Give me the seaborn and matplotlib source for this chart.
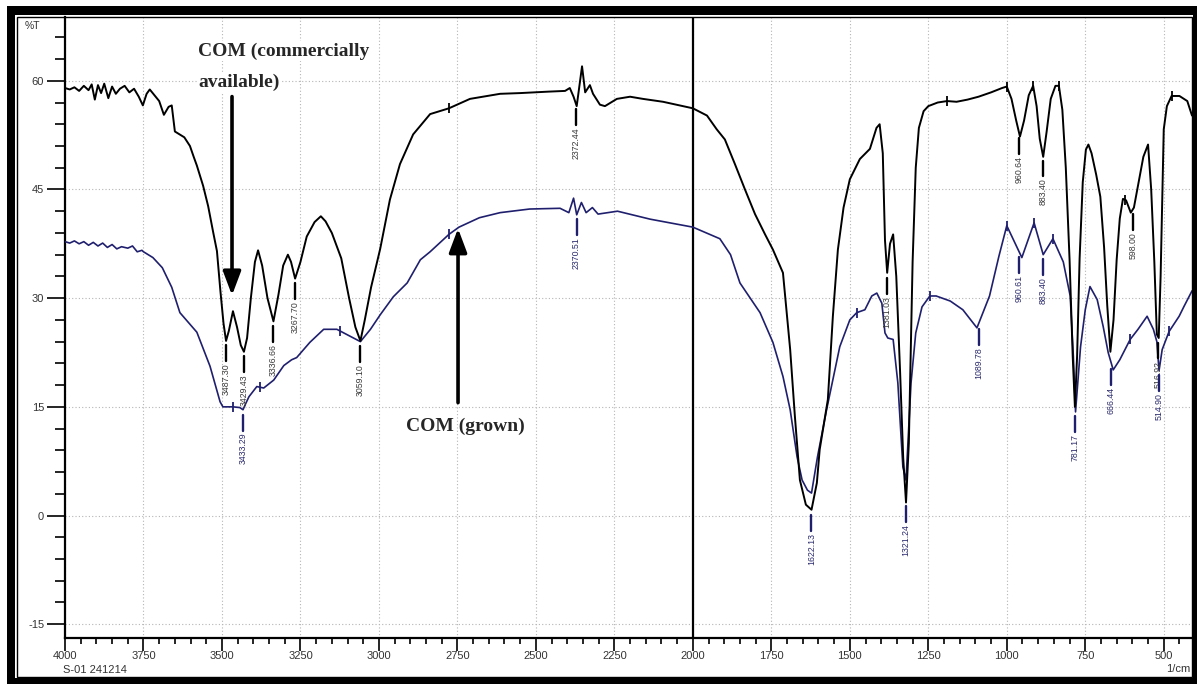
import numpy as np
import pandas as pd
import matplotlib
matplotlib.use("Agg")
import matplotlib.pyplot as plt
import seaborn as sns
from matplotlib.patches import Rectangle
from matplotlib.ticker import MultipleLocator

# ---------------- data ----------------
wn_com = [4000, 3985, 3970, 3955, 3940, 3925, 3915, 3905, 3895, 3885, 3875, 3862, 3850, 3838,
          3825, 3810, 3795, 3780, 3765, 3752, 3740, 3730, 3715, 3700, 3685, 3670, 3660, 3650,
          3635, 3620, 3602, 3590, 3580, 3560, 3544, 3528, 3516, 3505, 3495, 3487, 3478, 3465,
          3452, 3440, 3430, 3420, 3408, 3395, 3385, 3372, 3355, 3336, 3320, 3305, 3290, 3280,
          3267, 3250, 3230, 3205, 3185, 3170, 3150, 3120, 3095, 3075, 3059, 3045, 3025, 2996,
          2965, 2933, 2891, 2837, 2777, 2710, 2614, 2550, 2460, 2407, 2392, 2380, 2370, 2353,
          2343, 2328, 2318, 2296, 2280, 2242, 2200, 2159, 2095, 2031, 2000, 1955, 1924, 1898,
          1866, 1834, 1802, 1770, 1745, 1713, 1690, 1675, 1659, 1640, 1622, 1605, 1596, 1570,
          1554, 1538, 1520, 1500, 1468, 1436, 1415, 1405, 1395, 1388, 1381, 1372, 1362, 1352,
          1340, 1330, 1321, 1312, 1300, 1290, 1280, 1265, 1250, 1220, 1190, 1160, 1125, 1090,
          1050, 1015, 1000, 985, 970, 958, 945, 930, 916, 905, 895, 884, 873, 860, 845, 834,
          823, 812, 800, 790, 783, 776, 768, 758, 748, 740, 730, 715, 702, 690, 680, 670, 660,
          650, 640, 630, 620, 605, 595, 580, 565, 550, 540, 530, 522, 516, 510, 500, 490, 475,
          450, 425, 410]
t_com = [59.0, 58.8, 59.1, 58.6, 59.3, 58.7, 59.5, 57.4, 59.4, 58.3, 59.6, 57.6, 59.2, 58.2,
         58.9, 59.3, 58.4, 58.9, 57.8, 56.6, 58.2, 58.8, 58.0, 57.2, 55.3, 56.4, 56.6, 53.0,
         52.6, 52.2, 51.0, 49.5, 48.3, 45.5, 42.7, 39.1, 36.5, 31.0, 26.5, 24.1, 25.5, 28.2,
         26.0, 23.5, 22.6, 24.5, 30.0, 35.0, 36.6, 34.5, 30.0, 26.8, 30.5, 34.5, 36.0, 35.0,
         32.7, 35.0, 38.5, 40.5, 41.3, 40.6, 39.0, 35.5, 30.0, 26.0, 24.1, 27.0, 31.5, 36.8,
         43.6, 48.5, 52.6, 55.4, 56.2, 57.5, 58.2, 58.3, 58.5, 58.6, 59.0, 57.8, 56.5, 62.0,
         58.4, 59.4, 58.2, 56.7, 56.5, 57.5, 57.8, 57.5, 57.1, 56.5, 56.2, 55.2, 53.3, 51.9,
         48.5, 45.0, 41.6, 38.8, 36.7, 33.5, 22.9, 13.7, 4.9, 1.5, 0.8, 4.5, 9.1, 16.0,
         27.5, 36.7, 42.5, 46.4, 49.2, 50.6, 53.5, 54.0, 50.0, 38.0, 33.5, 37.5, 38.8, 33.0,
         20.0, 8.0, 1.8, 10.0, 35.0, 48.0, 53.5, 55.8, 56.5, 57.0, 57.2, 57.1, 57.4, 57.8,
         58.4, 59.0, 59.2, 57.5, 54.5, 52.3, 54.5, 58.0, 59.3, 56.5, 52.0, 49.5, 53.0, 57.5,
         59.3, 59.3, 56.0, 48.0, 35.3, 22.0, 15.0, 22.0, 35.5, 46.0, 50.5, 51.2, 50.0, 47.0,
         44.0, 37.0, 29.0, 22.6, 27.0, 35.3, 41.0, 43.7, 43.5, 41.8, 42.5, 46.0, 49.5, 51.2,
         45.0, 35.0, 25.0, 24.5, 33.0, 53.3, 56.5, 57.9, 57.9, 57.2, 55.2]

wn_grown = [4000, 3985, 3970, 3955, 3940, 3925, 3910, 3895, 3880, 3865, 3850, 3835, 3820, 3800,
            3785, 3770, 3755, 3750, 3720, 3690, 3660, 3634, 3580, 3538, 3506, 3497, 3465, 3443,
            3433, 3426, 3414, 3389, 3367, 3335, 3303, 3278, 3262, 3220, 3176, 3134, 3103, 3059,
            3027, 2996, 2954, 2910, 2868, 2837, 2777, 2745, 2680, 2614, 2520, 2423, 2395, 2380,
            2370, 2355, 2340, 2320, 2302, 2240, 2136, 2000, 1914, 1880, 1850, 1786, 1745, 1713,
            1690, 1668, 1652, 1635, 1622, 1603, 1574, 1532, 1500, 1478, 1452, 1430, 1414, 1398,
            1388, 1379, 1362, 1347, 1331, 1321, 1305, 1290, 1270, 1245, 1225, 1180, 1140, 1095,
            1055, 1025, 1000, 952, 913, 884, 853, 820, 798, 788, 781, 765, 750, 735, 712, 693,
            677, 661, 640, 607, 582, 553, 533, 522, 515, 505, 483, 451, 435, 410]
t_grown = [37.8, 37.6, 37.9, 37.5, 37.8, 37.3, 37.7, 37.2, 37.6, 37.0, 37.4, 36.8, 37.1, 36.9,
           37.2, 36.4, 36.6, 36.4, 35.6, 34.2, 31.5, 28.0, 25.3, 20.6, 15.7, 15.0, 15.0, 14.9,
           14.6, 15.3, 16.4, 17.8, 17.6, 18.7, 20.7, 21.5, 21.8, 23.9, 25.7, 25.7, 25.0, 24.0,
           25.7, 27.7, 30.2, 32.1, 35.3, 36.4, 38.8, 39.8, 41.1, 41.8, 42.3, 42.4, 41.8, 43.8,
           41.5, 43.2, 41.8, 42.5, 41.6, 42.0, 40.9, 39.8, 38.2, 36.0, 32.1, 28.0, 23.9, 19.2,
           14.6, 8.1, 4.9, 3.5, 3.1, 8.1, 14.6, 23.3, 27.0, 28.0, 28.4, 30.3, 30.7, 29.3,
           25.2, 24.5, 24.3, 18.3, 6.7, 4.9, 18.3, 25.2, 28.8, 30.3, 30.3, 29.6, 28.4, 25.9,
           30.3, 35.8, 40.0, 35.6, 40.4, 36.0, 38.2, 35.0, 30.3, 22.0, 14.3, 23.3, 28.4, 31.6,
           29.8, 26.1, 22.5, 20.1, 21.5, 24.3, 25.7, 27.5, 25.7, 24.0, 20.0, 22.9, 25.4, 27.5,
           28.9, 31.0]

peaks_com = [3487.30, 3429.43, 3336.66, 3267.70, 3059.10, 2372.44, 1381.03, 960.64, 883.40, 598.00, 516.92]
peak_labels_com = ["3487.30", "3429.43", "3336.66", "3267.70", "3059.10", "2372.44", "1381.03",
                   "960.64", "883.40", "598.00", "516.92"]
peaks_grown = [3433.29, 2370.51, 1622.13, 1321.24, 1089.78, 960.61, 883.40, 781.17, 666.44, 514.90]
peak_labels_grown = ["3433.29", "2370.51", "1622.13", "1321.24", "1089.78", "960.61", "883.40",
                     "781.17", "666.44", "514.90"]

marks_com = [2777, 1190, 1000, 916, 834, 623, 475]
marks_grown = [3465, 3379, 3124, 2777, 1478, 1245, 1000, 913, 853, 607, 483]

x_ticks = [4000, 3750, 3500, 3250, 3000, 2750, 2500, 2250, 2000, 1750, 1500, 1250, 1000, 750, 500]
y_ticks = [-15, 0, 15, 30, 45, 60]

label_com = ["COM (commercially", "available)"]
label_grown = "COM (grown)"

# ---------------- figure ----------------
sns.set_theme(style="white")
plt.rcParams["font.family"] = ["Liberation Sans", "DejaVu Sans"]

W, H = 1197, 684
fig = plt.figure(figsize=(W / 100, H / 100), dpi=100)
fig.patch.set_facecolor("white")
ax = fig.add_axes([65 / W, 1 - 638 / H, (1192 - 65) / W, (638 - 17) / H])
ax.set_facecolor("white")

BLACK = "#000000"
NAVY = "#1f1f6e"

df_com = pd.DataFrame({"wn": wn_com, "T": t_com})
df_grown = pd.DataFrame({"wn": wn_grown, "T": t_grown})

ax.axvline(2000, color="black", lw=1.6, zorder=1)
sns.lineplot(data=df_grown, x="wn", y="T", sort=False, estimator=None, color=NAVY, lw=1.2, ax=ax, zorder=3)
sns.lineplot(data=df_com, x="wn", y="T", sort=False, estimator=None, color=BLACK, lw=1.4, ax=ax, zorder=4)

wc = np.array(wn_com)[::-1]; tc = np.array(t_com)[::-1]
wg = np.array(wn_grown)[::-1]; tg = np.array(t_grown)[::-1]

# peak-pick marks on the curves
ax.scatter(marks_com, np.interp(marks_com, wc, tc), marker="|", s=45, color=BLACK, linewidths=1.3, zorder=5)
ax.scatter(marks_grown, np.interp(marks_grown, wg, tg), marker="|", s=45, color=NAVY, linewidths=1.3, zorder=5)

# peak labels
for w, lab in zip(peaks_com, peak_labels_com):
    v = np.interp(w, wc, tc)
    ax.plot([w, w], [v - 0.7, v - 2.9], color=BLACK, lw=1.7, zorder=5)
    ax.text(w, v - 3.2, lab, rotation=90, ha="center", va="top", fontsize=6.3, color="#3a3a3a", zorder=5)
for w, lab in zip(peaks_grown, peak_labels_grown):
    v = min(np.interp(w, wg, tg), np.interp(w, wc, tc))
    ax.plot([w, w], [v - 0.7, v - 2.9], color=NAVY, lw=1.7, zorder=5)
    ax.text(w, v - 3.2, lab, rotation=90, ha="center", va="top", fontsize=6.3, color="#2a2a6e", zorder=5)

# axes styling
ax.set_xlim(4000, 410)
ax.set_ylim(-16.9, 68.8)
ax.set_xticks(x_ticks)
ax.set_xticklabels([str(t) for t in x_ticks])
ax.set_yticks(y_ticks)
ax.set_yticklabels([str(t) for t in y_ticks])
ax.xaxis.set_minor_locator(MultipleLocator(50))
ax.yaxis.set_minor_locator(MultipleLocator(3))
ax.tick_params(axis="y", which="major", direction="out", length=13, width=1.2, color="black",
               labelsize=8, labelcolor="#333333", pad=2, left=True)
ax.tick_params(axis="y", which="minor", direction="out", length=7, width=1.2, color="black", left=True)
ax.tick_params(axis="x", which="major", direction="out", length=9, width=1.2, color="black",
               labelsize=8, labelcolor="#333333", pad=0.5, bottom=True)
ax.tick_params(axis="x", which="minor", direction="out", length=4.5, width=1.2, color="black", bottom=True)
ax.grid(True, which="major", linestyle=(0, (1, 2)), color="#b5b5b5", lw=0.8)
for s in ["top", "right"]:
    ax.spines[s].set_visible(False)
for s in ["left", "bottom"]:
    ax.spines[s].set_color("black")
    ax.spines[s].set_linewidth(1.6)
ax.set_xlabel("")
ax.set_ylabel("")

# annotations
serif = ["Liberation Serif", "DejaVu Serif"]
ax.text(3576, 64.1, label_com[0], family=serif, fontweight="bold", fontsize=14, ha="left", va="center", zorder=6,
        bbox=dict(facecolor="white", edgecolor="none", pad=1))
ax.text(3576, 59.8, label_com[1], family=serif, fontweight="bold", fontsize=14, ha="left", va="center", zorder=6,
        bbox=dict(facecolor="white", edgecolor="none", pad=1))
ax.annotate("", xy=(3468, 30.0), xytext=(3468, 58.2),
            arrowprops=dict(arrowstyle="-|>,head_length=1.2,head_width=0.45", color="black", lw=2.6), zorder=6)
ax.text(2725, 12.3, label_grown, family=serif, fontweight="bold", fontsize=14, ha="center", va="center", zorder=6)
ax.annotate("", xy=(2748, 40.0), xytext=(2748, 15.2),
            arrowprops=dict(arrowstyle="-|>,head_length=1.2,head_width=0.45", color="black", lw=2.6), zorder=6)

fig.text(32 / W, 1 - 26 / H, "%T", fontsize=7.5, ha="center", va="center", color="#333333")
fig.text(1178 / W, 1 - 669 / H, "1/cm", fontsize=8, ha="center", va="center", color="#333333")
fig.text(63 / W, 1 - 670 / H, "S-01 241214", fontsize=8, ha="left", va="center", color="#333333")

# frame
def prect(x0, y0, x1, y1, **kw):
    r = Rectangle((x0 / W, 1 - y1 / H), (x1 - x0) / W, (y1 - y0) / H, transform=fig.transFigure, **kw)
    fig.patches.append(r)

prect(7, 6, 15, 684, facecolor="black", edgecolor="none")
prect(7, 6, 1197, 15, facecolor="black", edgecolor="none")
prect(1193, 6, 1197, 684, facecolor="black", edgecolor="none")
prect(7, 678, 1197, 684, facecolor="black", edgecolor="none")
prect(17, 17, 1192, 677, facecolor="none", edgecolor="black", lw=1.0)

fig.savefig("out.png", dpi=100, facecolor="white")
